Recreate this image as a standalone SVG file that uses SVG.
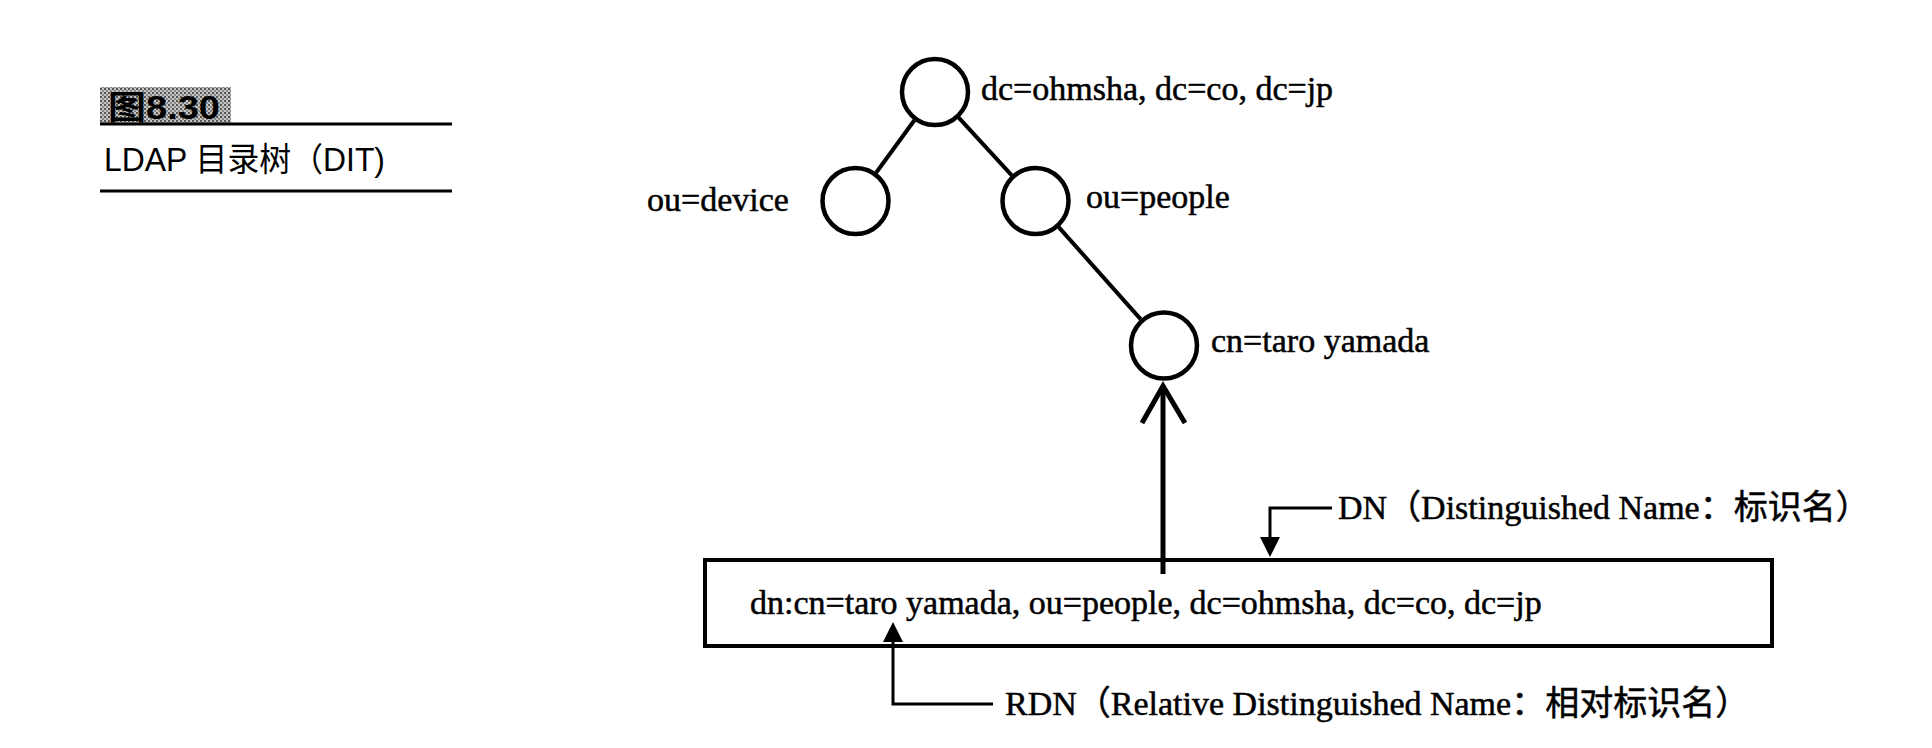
<svg xmlns="http://www.w3.org/2000/svg" width="1932" height="748" viewBox="0 0 1932 748">
<style>
.node{fill:none;stroke:#000;stroke-width:4.5}
.edge{fill:none;stroke:#000;stroke-width:4}
.lbl{font-family:"Liberation Serif","Noto Sans CJK SC",serif;font-size:34px;fill:#000;stroke:#000;stroke-width:0.5}
.ttl{font-family:"Liberation Sans","Noto Sans CJK SC",sans-serif;fill:#000}
.lead{fill:none;stroke:#000;stroke-width:3}
</style>
<defs>
<pattern id="halftone" width="4" height="4" patternUnits="userSpaceOnUse">
<rect width="4" height="4" fill="#c4c4c4"/>
<rect width="2" height="2" fill="#555"/>
<rect x="2" y="2" width="2" height="2" fill="#888"/>
</pattern>
</defs>
<rect width="1932" height="748" fill="#fff"/>
<g id="title">
<rect x="100" y="87" width="131" height="36" fill="url(#halftone)"/>
<text class="ttl" x="108" y="119" font-size="33" font-weight="bold" textLength="112" lengthAdjust="spacingAndGlyphs">图8.30</text>
<line x1="100" y1="124" x2="452" y2="124" stroke="#000" stroke-width="3"/>
<text class="ttl" x="104" y="171" font-size="33" textLength="281" lengthAdjust="spacingAndGlyphs">LDAP 目录树（DIT)</text>
<line x1="100" y1="191" x2="452" y2="191" stroke="#000" stroke-width="3"/>
</g>
<g id="connectors">
<line class="edge" x1="914.4" y1="120.2" x2="876.1" y2="172.8"/>
<line class="edge" x1="958.7" y1="117.7" x2="1011.8" y2="175.3"/>
<line class="edge" x1="1058.7" y1="227.1" x2="1140.8" y2="319.4"/>
<line x1="1163" y1="574" x2="1163" y2="386" stroke="#000" stroke-width="5"/>
<polyline points="1142,423 1163,386 1185,423" fill="none" stroke="#000" stroke-width="5"/>
<polyline class="lead" points="1332,508 1270,508 1270,540"/>
<polygon points="1260,537 1280,537 1270,557" fill="#000"/>
<polyline class="lead" points="993,704 893,704 893,640"/>
<polygon points="883,642 903,642 893,622" fill="#000"/>
</g>
<g id="root">
<circle class="node" cx="935" cy="92" r="33"/>
<text class="lbl" x="981" y="100">dc=ohmsha, dc=co, dc=jp</text>
</g>
<g id="device">
<circle class="node" cx="855.5" cy="201" r="33"/>
<text class="lbl" x="647" y="211">ou=device</text>
</g>
<g id="people">
<circle class="node" cx="1035.5" cy="201" r="33"/>
<text class="lbl" x="1086" y="208">ou=people</text>
</g>
<g id="cn">
<circle class="node" cx="1164" cy="345.5" r="33"/>
<text class="lbl" x="1211" y="352">cn=taro yamada</text>
</g>
<g id="dnbox">
<rect x="705" y="560" width="1067" height="86" fill="none" stroke="#000" stroke-width="4"/>
<text class="lbl" x="750" y="614">dn:cn=taro yamada, ou=people, dc=ohmsha, dc=co, dc=jp</text>
</g>
<g id="dnlabel">
<text class="lbl" x="1338" y="519">DN（Distinguished Name：标识名）</text>
</g>
<g id="rdnlabel">
<text class="lbl" x="1005" y="715">RDN（Relative Distinguished Name：相对标识名）</text>
</g>
</svg>
